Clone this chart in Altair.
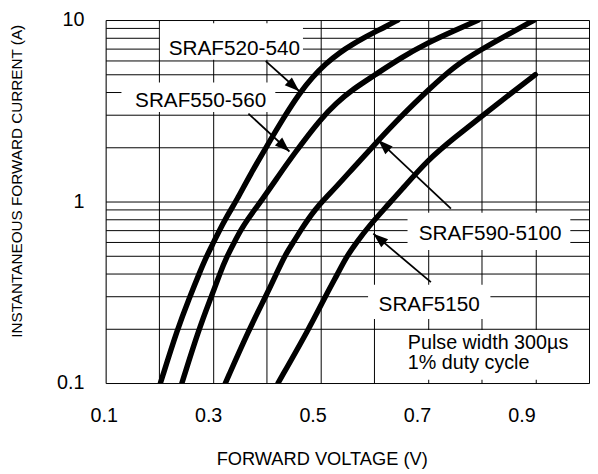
import math
import altair as alt
import pandas as pd

# ---------------- data ----------------
series = ["SRAF520-540", "SRAF550-560", "SRAF590-5100", "SRAF5150"]

c1_v = [0.202, 0.234, 0.257, 0.274, 0.288, 0.3015, 0.3125, 0.323, 0.333, 0.3425,
        0.37, 0.40, 0.433, 0.461, 0.485, 0.51, 0.535, 0.56, 0.58, 0.60, 0.62, 0.644]
c1_i = [0.1, 0.2, 0.3, 0.4, 0.5, 0.6, 0.7, 0.8, 0.9, 1.0,
        1.42, 2.02, 2.95, 3.95, 4.85, 5.75, 6.6, 7.35, 7.95, 8.55, 9.15, 10.0]

c2_v = [0.242, 0.274, 0.297, 0.3125, 0.326, 0.340, 0.352, 0.365, 0.377, 0.389,
        0.42, 0.45, 0.50, 0.53, 0.56, 0.60, 0.65, 0.70, 0.75, 0.794]
c2_i = [0.1, 0.2, 0.3, 0.4, 0.5, 0.6, 0.7, 0.8, 0.9, 1.0,
        1.36, 1.82, 2.85, 3.5, 4.15, 4.95, 6.2, 7.5, 8.75, 10.0]

c3_v = [0.323, 0.368, 0.398, 0.418, 0.433, 0.450, 0.464, 0.477, 0.490, 0.503,
        0.53, 0.56, 0.60, 0.65, 0.70, 0.75, 0.80, 0.85, 0.898]
c3_i = [0.1, 0.2, 0.3, 0.4, 0.5, 0.6, 0.7, 0.8, 0.9, 1.0,
        1.21, 1.52, 2.05, 2.95, 4.1, 5.6, 6.9, 8.35, 10.0]

c4_v = [0.421, 0.479, 0.509, 0.532, 0.549, 0.568, 0.59, 0.62, 0.65, 0.70,
        0.75, 0.80, 0.85, 0.90]
c4_i = [0.1, 0.2, 0.3, 0.4, 0.5, 0.6, 0.73, 0.92, 1.15, 1.7,
        2.25, 2.95, 3.85, 5.0]

grid_v = [0.1, 0.2, 0.3, 0.4, 0.5, 0.6, 0.7, 0.8, 0.9, 1.0]
grid_i = [0.1, 0.2, 0.3, 0.4, 0.5, 0.6, 0.7, 0.8, 0.9,
          1, 2, 3, 4, 5, 6, 7, 8, 9, 10]
x_tick_values = [0.1, 0.3, 0.5, 0.7, 0.9]
x_tick_labels = ["0.1", "0.3", "0.5", "0.7", "0.9"]
y_tick_values = [0.1, 1, 10]
y_tick_labels = ["0.1", "1", "10"]

# annotation labels (centre x, baseline y)
label_v = [0.3397, 0.2769, 0.8158, 0.7025]
label_i = [6.45, 3.31, 0.611, 0.249]

# white boxes behind labels
box_v1 = [0.2010, 0.1294, 0.6621, 0.5886, 0.6474]
box_v2 = [0.4674, 0.4159, 0.9652, 0.8164, 0.997]
box_i1 = [9.60, 4.53, 0.868, 0.348, 0.196]
box_i2 = [6.04, 3.11, 0.54, 0.225, 0.1041]

# arrows (tail -> tip)
arrow_v_tail = [0.398, 0.3658, 0.7429, 0.7056]
arrow_i_tail = [5.94, 3.05, 0.913, 0.36]
arrow_v_tip = [0.4606, 0.4422, 0.6075, 0.5984]
arrow_i_tip = [4.05, 1.886, 2.18, 0.665]

note_text = ["Pulse width 300µs\n1% duty cycle"]
note_v = [0.6626]
note_i = [0.1544]

# ---------------- layout ----------------
W, H = 490, 368
FONT = "Liberation Sans, Arial, Helvetica, sans-serif"

curve_rows = []
for name, vs, is_ in zip(series, [c1_v, c2_v, c3_v, c4_v], [c1_i, c2_i, c3_i, c4_i]):
    for k, (v, i) in enumerate(zip(vs, is_)):
        curve_rows.append({"series": name, "v": v, "i": i, "k": k})
curves_df = pd.DataFrame(curve_rows)

boxes_df = pd.DataFrame({"v1": box_v1, "v2": box_v2, "i1": box_i1, "i2": box_i2})
labels_df = pd.DataFrame({"label": series, "v": label_v, "i": label_i})


def px(v):
    return (v - 0.1) / 0.9 * W


def py(i):
    return (1 - math.log10(i)) / 2 * H


angles = []
for a, b, c, d in zip(arrow_v_tail, arrow_i_tail, arrow_v_tip, arrow_i_tip):
    dx = px(c) - px(a)
    dy = py(d) - py(b)
    angles.append(math.degrees(math.atan2(dx, -dy)) % 360)

arrows_df = pd.DataFrame({"v": arrow_v_tail, "i": arrow_i_tail,
                          "v2": arrow_v_tip, "i2": arrow_i_tip, "angle": angles})
note_df = pd.DataFrame({"note": note_text, "v": note_v, "i": note_i})

x_scale = alt.Scale(domain=[0.1, 1.0], nice=False, zero=False)
y_scale = alt.Scale(type="log", domain=[0.1, 10], nice=False)


def label_expr(values, texts):
    expr = "''"
    for val, txt in reversed(list(zip(values, texts))):
        expr = f"datum.value == {val} ? '{txt}' : ({expr})"
    return expr


x_offsets = [-2, -5, -8, -11, -14]
x_label_offset = {
    "condition": [{"test": f"datum.value == {val}", "value": off}
                  for val, off in zip(x_tick_values, x_offsets)],
    "value": 0,
}

x_axis = alt.Axis(
    values=grid_v, grid=True, gridColor="#000", gridWidth=1, ticks=False, domain=False,
    labelExpr=label_expr(x_tick_values, x_tick_labels), labelFont=FONT, labelFontSize=20,
    labelColor="#000", labelPadding=23, labelBaseline="top", labelFlush=False,
    labelOverlap=False, labelOffset=x_label_offset,
    title="FORWARD VOLTAGE (V)", titleFont=FONT, titleFontSize=18.5, titleFontWeight="normal",
    titleColor="#000", titleX=219, titleY=83, titleAlign="center", titleBaseline="alphabetic",
)
y_axis = alt.Axis(
    values=grid_i, grid=True, gridColor="#000", gridWidth=1, ticks=False, domain=False,
    labelExpr=label_expr(y_tick_values, y_tick_labels), labelFont=FONT, labelFontSize=20,
    labelColor="#000", labelPadding=22, labelBaseline="middle", labelFlush=False,
    labelOverlap=False,
    title="INSTANTANEOUS FORWARD CURRENT (A)", titleFont=FONT, titleFontSize=15.5,
    titleFontWeight="normal", titleColor="#000", titleX=-90, titleY=163,
    titleAlign="center", titleBaseline="middle", titleAngle=270,
)

X = alt.X("v:Q", scale=x_scale, axis=x_axis)
Y = alt.Y("i:Q", scale=y_scale, axis=y_axis)

boxes = alt.Chart(boxes_df).mark_rect(fill="white").encode(
    x=alt.X("v1:Q", scale=x_scale, axis=x_axis),
    x2="v2:Q",
    y=alt.Y("i1:Q", scale=y_scale, axis=y_axis),
    y2="i2:Q",
)

lines = alt.Chart(curves_df).mark_line(
    color="black", strokeWidth=5.5, interpolate="basis", clip=True, strokeCap="round"
).encode(x=X, y=Y, detail="series:N", order="k:Q")

arrow_lines = alt.Chart(arrows_df).mark_rule(color="black", strokeWidth=1.8).encode(
    x=X, y=Y, x2="v2:Q", y2="i2:Q"
)

arrow_heads = alt.Chart(arrows_df).mark_point(
    shape="M0,0L-0.36,1L0.36,1Z", filled=True, color="black", size=900, opacity=1,
    strokeWidth=0,
).encode(
    x=alt.X("v2:Q", scale=x_scale, axis=x_axis),
    y=alt.Y("i2:Q", scale=y_scale, axis=y_axis),
    angle=alt.Angle("angle:Q", scale=None),
)

labels = alt.Chart(labels_df).mark_text(
    font=FONT, fontSize=21, color="black", align="center", baseline="alphabetic"
).encode(x=X, y=Y, text="label:N")

note = alt.Chart(note_df).mark_text(
    font=FONT, fontSize=20, color="black", align="left", baseline="alphabetic",
    lineBreak="\n", lineHeight=21,
).encode(x=X, y=Y, text="note:N")

chart = alt.layer(boxes, lines, arrow_lines, arrow_heads, labels, note).properties(
    width=W, height=H,
    autosize=alt.AutoSizeParams(type="none"),
    padding={"left": 99, "top": 9, "right": 1, "bottom": 87},
).configure_view(stroke="black", strokeWidth=2).configure(background="white")

chart.save("out.html", embed_options={"renderer": "svg", "actions": False})
